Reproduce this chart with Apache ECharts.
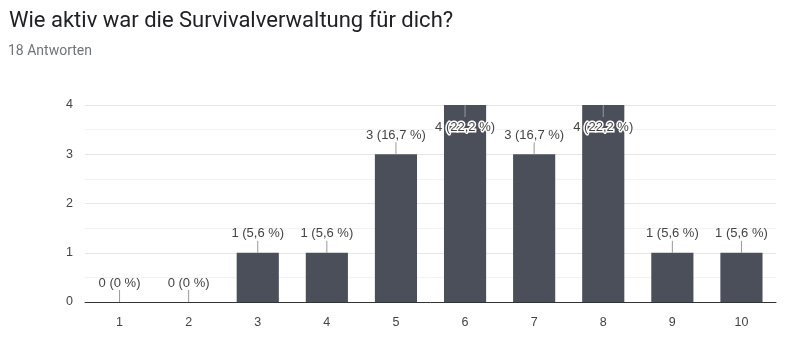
<!DOCTYPE html>
<html>
<head>
<meta charset="utf-8">
<script src="https://cdn.jsdelivr.net/npm/echarts@6/dist/echarts.min.js"></script>
<style>
  html, body { margin: 0; padding: 0; background: #fff; }
  #chart { width: 800px; height: 354px; }
</style>
</head>
<body>
<div id="chart"></div>
<script>
var categories = ["1", "2", "3", "4", "5", "6", "7", "8", "9", "10"];
var counts = [0, 0, 1, 1, 3, 4, 3, 4, 1, 1];
var totalAnswers = 18;
var yTicks = [0, 1, 2, 3, 4];

// label like "1 (5,6 %)"
function fmtLabel(v) {
  var p = v / totalAnswers * 100;
  var s = (Math.round(p * 10) / 10);
  var txt = (s % 1 === 0) ? String(s) : s.toFixed(1).replace(".", ",");
  return v + " (" + txt + " %)";
}

var maxVal = Math.max.apply(null, counts);
var myChart = echarts.init(document.getElementById("chart"));

var option = {
  animation: false,
  title: [
    {
      text: "Wie aktiv war die Survivalverwaltung für dich?",
      left: 4,
      top: 5,
      textStyle: { fontFamily: "Roboto", fontSize: 22, fontWeight: "normal", color: "#202124" }
    },
    {
      text: "18 Antworten",
      left: 3,
      top: 39,
      textStyle: { fontFamily: "Roboto", fontSize: 14, fontWeight: "normal", color: "#70757a" }
    }
  ],
  grid: { left: 85, right: 24, top: 105, bottom: 52 },
  xAxis: {
    type: "category",
    data: categories,
    axisTick: { show: false },
    axisLine: { lineStyle: { color: "#333", width: 1 } },
    axisLabel: { color: "#444", fontFamily: "Arial", fontSize: 12.5, margin: 14 }
  },
  yAxis: {
    type: "value",
    min: yTicks[0],
    max: yTicks[yTicks.length - 1],
    interval: 1,
    axisLine: { show: false },
    axisTick: { show: false },
    axisLabel: { color: "#444", fontFamily: "Arial", fontSize: 12.5, margin: 12 },
    splitLine: { lineStyle: { color: "#e6e6e6" } },
    minorTick: { show: false, splitNumber: 2 },
    minorSplitLine: { show: true, lineStyle: { color: "#f2f2f2" } }
  },
  series: [
    {
      type: "bar",
      data: counts,
      barWidth: "61%",
      itemStyle: { color: "#4a4f59" }
    },
    {
      type: "custom",
      data: counts.map(function (v, i) { return [i, v]; }),
      z: 5,
      clip: false,
      renderItem: function (params, api) {
        var v = api.value(1);
        var pt = api.coord([api.value(0), v]);
        var down = v === maxVal;
        var y2 = down ? pt[1] + 12 : pt[1] - 12;
        var ty = down ? pt[1] + 22 : pt[1] - 19;
        return {
          type: "group",
          children: [
            {
              type: "line",
              shape: { x1: pt[0], y1: pt[1], x2: pt[0], y2: y2 },
              style: { stroke: "#999", lineWidth: 1 }
            },
            {
              type: "text",
              style: {
                text: fmtLabel(v),
                x: pt[0],
                y: ty,
                align: "center",
                verticalAlign: "middle",
                fill: "#444",
                fontFamily: "Arial",
                fontSize: 13,
                stroke: down ? "#fff" : null,
                lineWidth: down ? 3 : 0
              }
            }
          ]
        };
      }
    }
  ]
};
myChart.setOption(option);
</script>
</body>
</html>
